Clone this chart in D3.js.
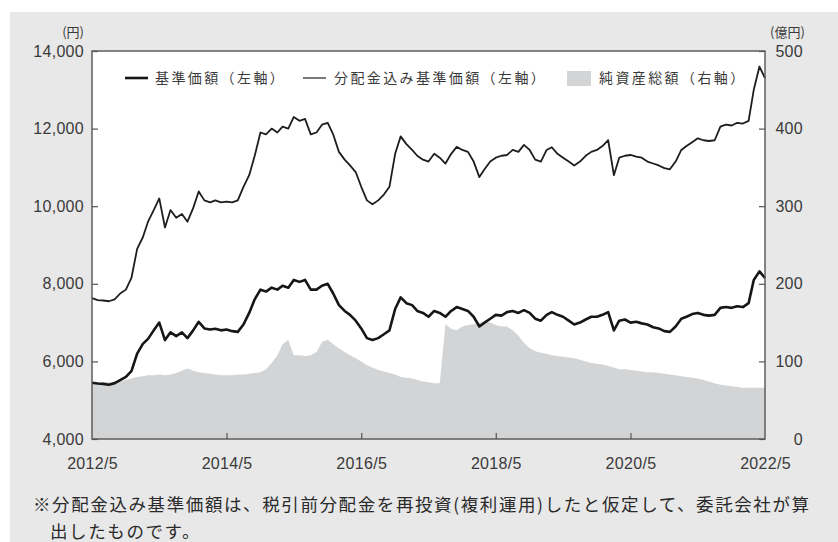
<!DOCTYPE html>
<html>
<head>
<meta charset="utf-8">
<script src="https://cdn.jsdelivr.net/npm/d3@7"></script>
<style>
  html, body { margin: 0; padding: 0; background: #fff; }
  svg { display: block; font-family: "Noto Sans CJK JP", "Noto Sans", sans-serif; }
</style>
</head>
<body>
<div id="chart"></div>
<script>
// ---- data (monthly, 2012/5 .. 2022/5) ----
const startMonth = new Date(2012, 4, 1);
const months = d3.timeMonth.range(startMonth, new Date(2022, 5, 1));

// 基準価額 (円)
const navValues = [
  5450, 5430, 5420, 5400, 5440, 5520, 5600, 5750, 6200, 6450, 6580, 6800,
  7000, 6550, 6750, 6650, 6750, 6600, 6800, 7020, 6850, 6820, 6840, 6800,
  6820, 6780, 6760, 6950, 7250, 7600, 7850, 7800, 7900, 7850, 7950, 7900,
  8100, 8050, 8100, 7850, 7850, 7950, 8000, 7750, 7450, 7300, 7200, 7050,
  6850, 6600, 6550, 6600, 6700, 6800, 7350, 7650, 7500, 7450, 7300, 7250,
  7150, 7300, 7250, 7150, 7300, 7400, 7350, 7300, 7150, 6900, 7000, 7100,
  7200, 7180, 7270, 7300, 7250, 7320, 7250, 7100, 7050, 7200, 7270, 7200,
  7150, 7050, 6950, 7000, 7080, 7150, 7150, 7200, 7270, 6800, 7050, 7080,
  7000, 7020, 6980, 6950, 6880, 6850, 6780, 6760, 6900, 7100, 7150, 7220,
  7250, 7200, 7180, 7200, 7380, 7400, 7380, 7420, 7400, 7500, 8100, 8320,
  8150
];

// 分配金込み基準価額 (円)
const reinvestValues = [
  7630, 7580, 7570, 7550, 7600, 7750, 7850, 8150, 8900, 9200, 9600, 9900,
  10200, 9450, 9900, 9700, 9800, 9600, 9950, 10380, 10150, 10100, 10150, 10100,
  10120, 10100, 10150, 10500, 10800, 11300, 11900, 11850, 12000, 11900, 12050, 12000,
  12300, 12200, 12250, 11850, 11900, 12100, 12150, 11850, 11400, 11200, 11050, 10880,
  10500, 10150, 10050, 10150, 10300, 10500, 11350, 11800, 11600, 11450, 11300, 11200,
  11150, 11350, 11250, 11100, 11350, 11530, 11450, 11400, 11150, 10750, 10950, 11150,
  11250, 11300, 11320, 11450, 11400, 11580, 11450, 11200, 11150, 11450, 11520, 11350,
  11250, 11150, 11050, 11150, 11300, 11400, 11450, 11550, 11700, 10800, 11250, 11300,
  11320, 11280, 11250, 11150, 11100, 11050, 10980, 10950, 11150, 11450, 11550, 11650,
  11750, 11700, 11680, 11700, 12050, 12100, 12080, 12150, 12130, 12200, 13000, 13600,
  13300
];

// 純資産総額 (億円)
const assetValues = [
  72, 72, 73, 73, 73, 74, 76, 78, 80, 81, 82, 82,
  83, 82, 83, 85, 88, 91, 88, 86, 85, 84, 83, 82,
  82, 82, 83, 83, 84, 85, 86, 90, 98, 108, 122, 128,
  108, 108, 107, 108, 112, 125, 128, 122, 117, 112, 108, 104,
  100, 95, 92, 89, 87, 85, 83, 80, 79, 78, 76, 74,
  73, 72, 72, 148, 142, 140, 145, 147, 148, 150, 151, 150,
  147, 145, 145, 140, 133, 124, 117, 113, 111, 110, 108, 107,
  106, 105, 104, 102, 100, 98, 97, 96, 94, 92, 90, 90,
  89, 88, 87, 86, 86, 85, 84, 83, 82, 81, 80, 79,
  78, 76, 74, 72, 70, 69, 68, 67, 66, 66, 66, 66,
  66
];

const leftTicks = [4000, 6000, 8000, 10000, 12000, 14000];
const rightTicks = [0, 100, 200, 300, 400, 500];
const xTickLabels = ["2012/5", "2014/5", "2016/5", "2018/5", "2020/5", "2022/5"];

const legendLabels = ["基準価額（左軸）", "分配金込み基準価額（左軸）", "純資産総額（右軸）"];
const noteLines = [
  "※分配金込み基準価額は、税引前分配金を再投資(複利運用)したと仮定して、委託会社が算",
  "出したものです。"
];

// ---- layout ----
const W = 838, H = 542;
const plot = { left: 92, right: 765, top: 51, bottom: 439 };
const textColor = "#3a3a3a";

function render() {
  const svg = d3.select("#chart").append("svg")
    .attr("width", W).attr("height", H);

  // outer gray panel
  svg.append("rect").attr("x", 10).attr("y", 12)
    .attr("width", W - 10).attr("height", H - 12).attr("fill", "#e8e8e8");
  svg.append("rect").attr("x", plot.left).attr("y", plot.top)
    .attr("width", plot.right - plot.left).attr("height", plot.bottom - plot.top)
    .attr("fill", "#fff");

  const x = d3.scaleTime()
    .domain([startMonth, new Date(2022, 4, 1)])
    .range([plot.left, plot.right]);
  const yL = d3.scaleLinear().domain([4000, 14000]).range([plot.bottom, plot.top]);
  const yR = d3.scaleLinear().domain([0, 500]).range([plot.bottom, plot.top]);

  // net assets area
  const area = d3.area()
    .x((d, i) => x(months[i]))
    .y0(plot.bottom)
    .y1(d => yR(d));
  svg.append("path").datum(assetValues)
    .attr("d", area).attr("fill", "#d3d4d6");

  // lines
  const lineL = d3.line().x((d, i) => x(months[i])).y(d => yL(d));
  svg.append("path").datum(reinvestValues)
    .attr("d", lineL).attr("fill", "none")
    .attr("stroke", "#1e1e1e").attr("stroke-width", 1.8).attr("stroke-linejoin", "round");
  svg.append("path").datum(navValues)
    .attr("d", lineL).attr("fill", "none")
    .attr("stroke", "#161616").attr("stroke-width", 2.6).attr("stroke-linejoin", "round");

  // frame
  svg.append("rect").attr("x", plot.left).attr("y", plot.top)
    .attr("width", plot.right - plot.left).attr("height", plot.bottom - plot.top)
    .attr("fill", "none").attr("stroke", "#555").attr("stroke-width", 1.4);

  // axes (ticks point inward)
  const styleAxis = g => {
    g.select(".domain").remove();
    g.selectAll(".tick line").attr("stroke", "#555").attr("stroke-width", 1.2);
    g.selectAll(".tick text").attr("fill", textColor)
      .style("font-size", "16px").style("letter-spacing", "0.3px");
  };

  svg.append("g").attr("transform", `translate(${plot.left},0)`)
    .call(d3.axisLeft(yL).tickValues(leftTicks).tickSizeInner(-6).tickSizeOuter(0)
      .tickPadding(8).tickFormat(d3.format(",")))
    .call(styleAxis);

  svg.append("g").attr("transform", `translate(${plot.right},0)`)
    .call(d3.axisRight(yR).tickValues(rightTicks).tickSizeInner(-6).tickSizeOuter(0)
      .tickPadding(38))
    .call(styleAxis)
    .call(g => g.selectAll(".tick text").attr("text-anchor", "end"));

  const xTickDates = xTickLabels.map(s => {
    const [yy, mm] = s.split("/").map(Number);
    return new Date(yy, mm - 1, 1);
  });
  svg.append("g").attr("transform", `translate(0,${plot.bottom})`)
    .call(d3.axisBottom(x).tickValues(xTickDates).tickSizeInner(-6).tickSizeOuter(0)
      .tickPadding(19).tickFormat((d, i) => xTickLabels[i]))
    .call(styleAxis)
    .call(g => g.selectAll(".tick line").filter((d, i) => i === 0 || i === xTickDates.length - 1).remove());

  // unit labels
  svg.append("text").attr("x", 84).attr("y", 37).attr("text-anchor", "end")
    .attr("fill", textColor).style("font-size", "13px").text("(円)");
  svg.append("text").attr("x", 770).attr("y", 37)
    .attr("fill", textColor).style("font-size", "13px").text("(億円)");

  // legend
  const lg = svg.append("g").attr("fill", textColor)
    .style("font-size", "14px").style("letter-spacing", "2.4px");
  const legY = 78;
  lg.append("line").attr("x1", 125).attr("x2", 148).attr("y1", legY).attr("y2", legY)
    .attr("stroke", "#161616").attr("stroke-width", 2.6);
  lg.append("text").attr("x", 155).attr("y", legY).attr("dy", "0.35em").text(legendLabels[0]);
  lg.append("line").attr("x1", 303).attr("x2", 326).attr("y1", legY).attr("y2", legY)
    .attr("stroke", "#1e1e1e").attr("stroke-width", 1.2);
  lg.append("text").attr("x", 334).attr("y", legY).attr("dy", "0.35em").text(legendLabels[1]);
  lg.append("rect").attr("x", 567).attr("y", legY - 7).attr("width", 24).attr("height", 15)
    .attr("fill", "#d3d4d6");
  lg.append("text").attr("x", 599).attr("y", legY).attr("dy", "0.35em").text(legendLabels[2]);

  // footnote
  const note = svg.append("g").attr("fill", "#2a2a2a")
    .style("font-size", "17.5px").style("letter-spacing", "1.6px");
  note.append("text").attr("x", 33).attr("y", 505).attr("dy", "0.35em").text(noteLines[0]);
  note.append("text").attr("x", 50).attr("y", 532).attr("dy", "0.35em").text(noteLines[1]);
}

document.addEventListener("DOMContentLoaded", render);
</script>
</body>
</html>
